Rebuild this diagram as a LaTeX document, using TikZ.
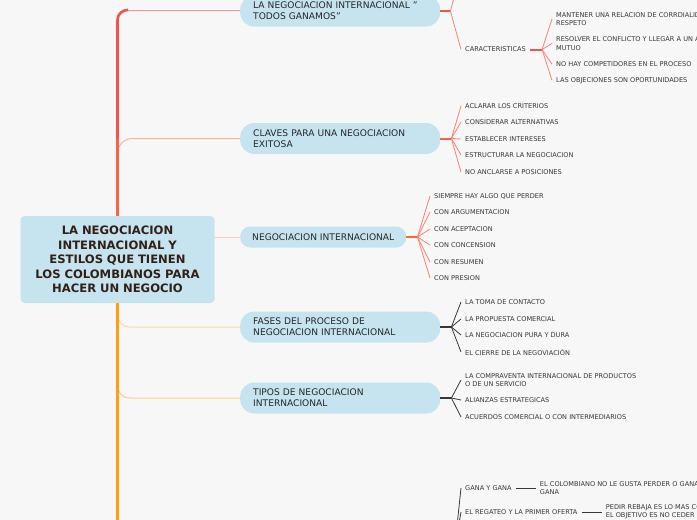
\documentclass[tikz,border=0pt]{standalone}
\usepackage{fontspec}
\setmainfont{DejaVu Sans}
\usetikzlibrary{positioning}
\definecolor{fondo}{RGB}{247,247,247}
\definecolor{celeste}{RGB}{197,228,240}
\definecolor{tinta}{RGB}{50,32,22}
\definecolor{rojo}{RGB}{240,84,74}
\definecolor{rojonar}{RGB}{245,102,66}
\definecolor{naranja}{RGB}{255,160,20}
\definecolor{rama1}{RGB}{246,150,140}
\definecolor{rama2}{RGB}{248,178,158}
\definecolor{rama3}{RGB}{248,205,190}
\definecolor{rama4}{RGB}{255,214,168}
\definecolor{rama5}{RGB}{255,204,140}
\definecolor{abanrojo}{RGB}{246,130,115}
\definecolor{gris}{RGB}{55,55,55}
\definecolor{hojagris}{RGB}{55,55,55}

\begin{document}
\begin{tikzpicture}[
  x=1pt, y=-1pt,
  node distance=20pt,
  every node/.style={font=\fontsize{6.6}{8.2}\selectfont, text=hojagris},
  central/.style={
    fill=celeste, rounded corners=4pt, text=tinta,
    minimum width=194pt, minimum height=87pt, text width=180pt,
    align=center, inner sep=0pt,
    font=\fontsize{11.6}{14.5}\selectfont\bfseries
  },
  tema/.style={
    fill=celeste, rounded corners=14pt, anchor=west, align=left,
    text=black!85, inner xsep=13pt, inner ysep=0pt, minimum height=31pt,
    font=\fontsize{9.1}{11}\selectfont
  },
  hoja/.style={anchor=west, align=left, inner xsep=4pt, inner ysep=1pt},
  rama/.style={line width=1pt},
  tronco/.style={line width=2.6pt},
  enlace/.style={line width=2pt},
  abanico/.style={line width=0.8pt}
]

  \useasboundingbox (0,0) rectangle (697,520);
  \fill[fondo] (0,0) rectangle (697,520);
  \clip (0,0) rectangle (697,520);

  % Nodo central
  \node[central] (central) at (117.5,259.5) {LA NEGOCIACION\\INTERNACIONAL Y\\ESTILOS QUE TIENEN\\LOS COLOMBIANOS PARA\\HACER UN NEGOCIO};

  % Temas principales
  \node[tema, text width=174pt] (todos) at (240,11) {LA NEGOCIACION INTERNACIONAL "\\TODOS GANAMOS"};
  \node[tema, text width=174pt] (claves) at (240,138.5) {CLAVES PARA UNA NEGOCIACION\\EXITOSA};
  \node[tema, rounded corners=10pt, minimum height=21pt, inner xsep=12pt] (negoc) at (240,237) {NEGOCIACION INTERNACIONAL};
  \node[tema, text width=174pt] (fases) at (240,327) {FASES DEL PROCESO DE\\NEGOCIACION INTERNACIONAL};
  \node[tema, text width=174pt] (tipos) at (240,398) {TIPOS DE NEGOCIACION\\INTERNACIONAL};

  % Ramas desde el tronco
  \coordinate (t1) at (128,10);
  \draw[rama, rama1] (t1) -- (todos.west |- t1);
  \draw[rama, rama2, rounded corners=15pt] (117.5,175) |- (claves.west);
  \draw[rama, rama3] (central.east |- negoc.west) -- (negoc.west);
  \draw[rama, rama4, rounded corners=12pt] (117.5,300) |- (fases.west);
  \draw[rama, rama5, rounded corners=12pt] (117.5,370) |- (tipos.west);

  % Tronco
  \coordinate (tfin) at (117.5,530);
  \draw[tronco, rojo, rounded corners=10pt] (117.5,140) |- (t1);
  \draw[tronco, rojonar] (central.north) -- (117.5,139);
  \draw[tronco, naranja] (central.south) -- (tfin);

  % Todos ganamos
  \coordinate[right=10pt of todos] (j1);
  \coordinate (arriba) at (461,-27);
  \node[hoja] (carac) at (461,49.5) {CARACTERISTICAS};
  \coordinate[right=12pt of carac] (jc);
  \node[hoja] (cordial) at (552,19) {MANTENER UNA RELACION DE CORRDIALIDAD Y\\RESPETO};
  \node[hoja] (conflicto) at (552,43.5) {RESOLVER EL CONFLICTO Y LLEGAR A UN ACUERDO\\MUTUO};
  \node[hoja] (compet) at (552,64.3) {NO HAY COMPETIDORES EN EL PROCESO};
  \node[hoja] (objec) at (552,80.3) {LAS OBJECIONES SON OPORTUNIDADES};
  \draw[enlace, rojo] (todos.east) -- (j1);
  \draw[abanico, abanrojo] (j1) -- (arriba);
  \draw[abanico, abanrojo] (j1) -- (carac.west);
  \draw[enlace, rojo] (carac.east) -- (jc);
  \draw[abanico, abanrojo] (jc) -- (cordial.west);
  \draw[abanico, abanrojo] (jc) -- (conflicto.west);
  \draw[abanico, abanrojo] (jc) -- (compet.west);
  \draw[abanico, abanrojo] (jc) -- (objec.west);

  % Claves
  \coordinate[right=11pt of claves] (j2);
  \node[hoja] (aclarar) at (461,106) {ACLARAR LOS CRITERIOS};
  \node[hoja] (consid) at (461,122) {CONSIDERAR ALTERNATIVAS};
  \node[hoja] (establ) at (461,139) {ESTABLECER INTERESES};
  \node[hoja] (estruct) at (461,155) {ESTRUCTURAR LA NEGOCIACION};
  \node[hoja] (anclar) at (461,172) {NO ANCLARSE A POSICIONES};
  \draw[enlace, rojonar] (claves.east) -- (j2);
  \draw[abanico, abanrojo] (j2) -- (aclarar.west);
  \draw[abanico, abanrojo] (j2) -- (consid.west);
  \draw[abanico, abanrojo] (j2) -- (establ.west);
  \draw[abanico, abanrojo] (j2) -- (estruct.west);
  \draw[abanico, abanrojo] (j2) -- (anclar.west);

  % Negociacion internacional
  \coordinate[right=11pt of negoc] (j3);
  \node[hoja] (perder) at (430,196) {SIEMPRE HAY ALGO QUE PERDER};
  \node[hoja] (argum) at (430,212) {CON ARGUMENTACION};
  \node[hoja] (acept) at (430,229) {CON ACEPTACION};
  \node[hoja] (concen) at (430,245) {CON CONCENSION};
  \node[hoja] (resum) at (430,262) {CON RESUMEN};
  \node[hoja] (presion) at (430,278) {CON PRESION};
  \draw[enlace, rojonar] (negoc.east) -- (j3);
  \draw[abanico, abanrojo] (j3) -- (perder.west);
  \draw[abanico, abanrojo] (j3) -- (argum.west);
  \draw[abanico, abanrojo] (j3) -- (acept.west);
  \draw[abanico, abanrojo] (j3) -- (concen.west);
  \draw[abanico, abanrojo] (j3) -- (resum.west);
  \draw[abanico, abanrojo] (j3) -- (presion.west);

  % Fases
  \coordinate[right=11pt of fases] (j4);
  \node[hoja] (contacto) at (461,302) {LA TOMA DE CONTACTO};
  \node[hoja] (propuesta) at (461,319) {LA PROPUESTA COMERCIAL};
  \node[hoja] (pura) at (461,335) {LA NEGOCIACION PURA Y DURA};
  \node[hoja] (cierre) at (461,352) {EL CIERRE DE LA NEGOVIACIÓN};
  \draw[enlace, gris] (fases.east) -- (j4);
  \draw[abanico, gris] (j4) -- (contacto.west);
  \draw[abanico, gris] (j4) -- (propuesta.west);
  \draw[abanico, gris] (j4) -- (pura.west);
  \draw[abanico, gris] (j4) -- (cierre.west);

  % Tipos
  \coordinate[right=11pt of tipos] (j5);
  \node[hoja] (compra) at (461,380) {LA COMPRAVENTA INTERNACIONAL DE PRODUCTOS\\O DE UN SERVICIO};
  \node[hoja] (alianzas) at (461,400) {ALIANZAS ESTRATEGICAS};
  \node[hoja] (acuerdos) at (461,417) {ACUERDOS COMERCIAL O CON INTERMEDIARIOS};
  \draw[enlace, gris] (tipos.east) -- (j5);
  \draw[abanico, gris] (j5) -- (compra.west);
  \draw[abanico, gris] (j5) -- (alianzas.west);
  \draw[abanico, gris] (j5) -- (acuerdos.west);

  % Estilos (rama inferior)
  \coordinate (j6) at (455,545);
  \node[hoja] (gana) at (461,488) {GANA Y GANA};
  \node[hoja, right=of gana] (colomb) {EL COLOMBIANO NO LE GUSTA PERDER O GANAR\\GANA};
  \node[hoja] (regateo) at (461,512) {EL REGATEO Y LA PRIMER OFERTA};
  \node[hoja, right=of regateo] (rebaja) {PEDIR REBAJA ES LO MAS COMUN\\EL OBJETIVO ES NO CEDER};
  \draw[abanico, gris] (j6) -- (gana.west);
  \draw[abanico, gris] (j6) -- (regateo.west);
  \draw[abanico, gris] (gana.east) -- (colomb.west);
  \draw[abanico, gris] (regateo.east) -- (rebaja.west);

\end{tikzpicture}
\end{document}
